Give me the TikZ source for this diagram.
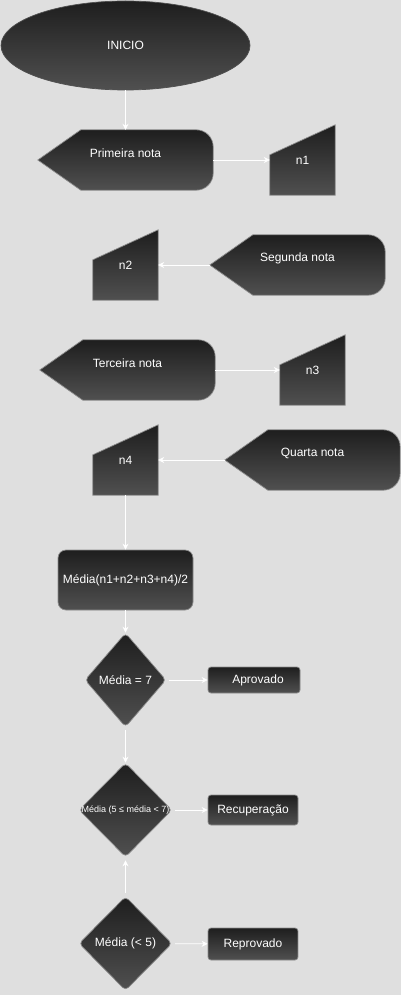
\documentclass[tikz,border=0pt]{standalone}
\usepackage{fontspec}
\setmainfont{Liberation Sans}
\usetikzlibrary{shapes.geometric,arrows.meta,backgrounds}
\definecolor{fundo}{HTML}{DFDFDF}
\definecolor{escuro}{HTML}{1E1E1E}
\definecolor{claro}{HTML}{505050}
\definecolor{borda}{HTML}{8C8C8C}
\begin{document}
\begin{tikzpicture}[x=1pt,y=-1pt,>={Stealth[length=6pt,width=6pt]},font=\fontsize{12}{14}\selectfont,
	forma/.style={top color=escuro,bottom color=claro,draw=borda,line width=0.7pt},
	exibir/.style={rectangle,inner sep=0pt,text=white,minimum width=175pt,minimum height=60pt},
	entrada/.style={rectangle,inner sep=0pt,text=white,minimum width=65pt,minimum height=70pt},
	caixa/.style={forma,rectangle,rounded corners=3pt,inner sep=0pt,text=white},
	decisao/.style={forma,diamond,rounded corners=4pt,inner sep=0pt,text=white},
	seta/.style={->,white,line width=0.8pt}]
				\node[forma,ellipse,draw=claro,minimum width=249pt,minimum height=89pt,text=white] (ini) at (125.5,45.5) {INICIO};
				\node[exibir] (nota1) at (125.5,160) {\raisebox{7pt}[\height][\depth]{Primeira nota}};
				\node[exibir] (nota2) at (297.5,265) {\raisebox{7pt}[\height][\depth]{Segunda nota}};
				\node[exibir] (nota3) at (127.5,370) {\raisebox{7pt}[\height][\depth]{Terceira nota}};
				\node[exibir] (nota4) at (312.5,460) {\raisebox{7pt}[\height][\depth]{Quarta nota}};
				\node[entrada] (n1) at (302.5,160) {n1};
				\node[entrada] (n2) at (125.5,265) {n2};
				\node[entrada] (n3) at (312.5,370) {n3};
				\node[entrada] (n4) at (125.5,460) {n4};
				\node[caixa,rounded corners=8pt,minimum width=135pt,minimum height=60pt] (media) at (125.5,580) {Média(n1+n2+n3+n4)/2};
				\node[decisao,minimum width=81pt,minimum height=94pt] (d1) at (125.5,680) {Média = 7};
				\node[decisao,minimum width=93pt,minimum height=94pt,label={[text=white,font=\fontsize{9}{11}\selectfont]center:Média (5 ≤ média < 7)}] (d2) at (125.5,810) {};
				\node[decisao,minimum width=93pt,minimum height=94pt] (d3) at (125.5,943.5) {Média (< 5)};
				\node[caixa,minimum width=92pt,minimum height=26pt] (apro) at (254,680) {\hspace{8pt}Aprovado};
				\node[caixa,minimum width=90pt,minimum height=30pt] (recu) at (253,810) {Recuperação};
				\node[caixa,minimum width=90pt,minimum height=32pt] (repro) at (253,944) {Reprovado};
				\begin{scope}[on background layer]
					\fill[fundo] (0,0) rectangle (401,995);
					\foreach \d in {nota1,nota2,nota3,nota4}
						\shade[forma] (\d.west) -- ([xshift=43pt]\d.north west) -- ([xshift=-17pt]\d.north east) arc[start angle=90,end angle=0,radius=17pt] -- ([yshift=17pt]\d.south east) arc[start angle=0,end angle=-90,radius=17pt] -- ([xshift=43pt]\d.south west) -- cycle;
					\foreach \m in {n1,n2,n3,n4}
						\shade[forma] (\m.north east) -- (\m.south east) -- (\m.south west) -- ([yshift=-30pt]\m.north west) -- cycle;
				\end{scope}
				\draw[seta] (ini) -- (nota1);
				\draw[seta] (nota1) -- (n1);
				\draw[seta] (nota2.west) -- (n2);
				\draw[seta] (nota3) -- (n3);
				\draw[seta] (nota4.west) -- (n4);
				\draw[seta] (n4) -- (media);
				\draw[seta] (media) -- (d1);
				\draw[seta,shorten <=3pt] (d1) -- (apro);
				\draw[seta,shorten <=3pt] (d1) -- (d2);
				\draw[seta,shorten <=3pt] (d2) -- (recu);
				\draw[seta,shorten <=3pt,shorten >=3pt] (d3) -- (d2);
				\draw[seta,shorten <=3pt] (d3) -- (repro);
			\end{tikzpicture}
\end{document}
